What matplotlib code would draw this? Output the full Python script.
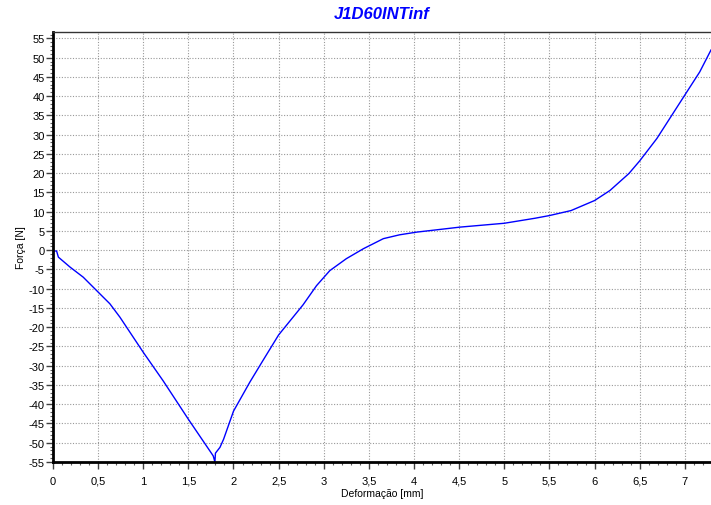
import matplotlib
matplotlib.use("Agg")
import matplotlib.pyplot as plt
from matplotlib.ticker import MultipleLocator, FuncFormatter

plt.rcParams['font.family'] = ['Liberation Sans', 'DejaVu Sans']

# deformacao [mm] / forca [N]
deform = [0.0, 0.04, 0.06, 0.19, 0.335, 0.446, 0.557, 0.63, 0.742, 1.00,
          1.22, 1.50, 1.775, 1.794, 1.80, 1.85, 1.89, 2.00, 2.18, 2.33,
          2.50, 2.77, 2.92, 3.067, 3.25, 3.44, 3.66, 3.84, 4.03, 4.51,
          5.00, 5.34, 5.50, 5.74, 6.00, 6.17, 6.38, 6.50, 6.69, 7.00,
          7.165, 7.29]
forca = [-0.2, -0.2, -1.8, -4.4, -7.0, -9.6, -12.2, -13.9, -17.4, -26.5,
         -33.9, -43.9, -53.4, -55.0, -52.7, -51.2, -49.1, -41.8, -34.3, -28.5,
         -22.0, -14.2, -9.2, -5.3, -2.2, 0.4, 3.0, 4.0, 4.7, 6.0,
         7.0, 8.3, 9.0, 10.3, 12.9, 15.5, 19.9, 23.2, 29.0, 40.3,
         46.3, 52.0]

fig = plt.figure(figsize=(7.11, 5.06), dpi=100)
ax = fig.add_axes([0.0745, 0.085, 0.9255, 0.85])

ax.plot(deform, forca, color='#0000ff', lw=1.0)

ax.set_xlim(0, 7.29)
ax.set_ylim(-55, 56.7)

ax.xaxis.set_major_locator(MultipleLocator(0.5))
ax.xaxis.set_minor_locator(MultipleLocator(0.1))
ax.yaxis.set_major_locator(MultipleLocator(5))
ax.yaxis.set_minor_locator(MultipleLocator(1))

comma = FuncFormatter(lambda v, p: ('%g' % v).replace('.', ','))
ax.xaxis.set_major_formatter(comma)
ax.yaxis.set_major_formatter(comma)

ax.tick_params(which='major', direction='out', length=5, width=1, labelsize=8, color='#404040')
ax.tick_params(which='minor', direction='out', length=2.5, width=0.8, color='#606060')
ax.tick_params(axis='y', pad=1)
for lbl in ax.get_xticklabels():
    lbl.set_verticalalignment('baseline')
ax.tick_params(axis='x', pad=10.5)

ax.grid(True, which='major', linestyle=(0, (1, 1.5)), color='#999999', lw=0.8)

ax.spines['left'].set_linewidth(2)
ax.spines['bottom'].set_linewidth(2)
ax.spines['top'].set_linewidth(1)
ax.spines['top'].set_color('#333333')
ax.spines['right'].set_visible(False)

ax.set_xlabel('Deformação [mm]', fontsize=7.5, labelpad=2)
ax.set_ylabel('Força [N]', fontsize=7.5, labelpad=2)
ax.set_title('J1D60INTinf', fontsize=12, fontweight='bold', style='italic',
             color='#0000ff', pad=10)

fig.savefig('out.png', dpi=100)
